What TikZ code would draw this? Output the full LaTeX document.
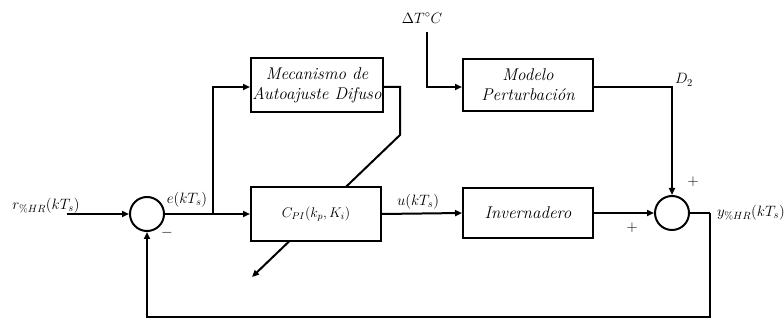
\RequirePackage{fix-cm}
\documentclass[tikz,border=0pt]{standalone}
\usepackage{fontspec}
\usetikzlibrary{arrows.meta,backgrounds}
\begin{document}
\begin{tikzpicture}[x=1pt,y=-1pt,
  every node/.style={font=\fontsize{15}{18}\selectfont},
  blk/.style={draw,line width=2pt,fill=white,minimum width=#1,inner sep=0pt,align=center,font=\fontsize{17}{20}\selectfont\itshape},
  sumc/.style={draw,circle,line width=2pt,fill=white,minimum size=34pt,inner sep=0pt},
  wire/.style={line width=2pt},
  arr/.style={wire,-{Triangle[length=7pt,width=6pt]}},
  lbl/.style={inner sep=0pt}]
\useasboundingbox (0,0) rectangle (784,320);
% blocks
\node[sumc] (s1) at (147,214) {};
\node[blk=132pt,minimum height=54pt] (fz) at (317,85) {Mecanismo de\\Autoajuste Difuso};
\node[blk=130pt,minimum height=54pt,font=\fontsize{14}{17}\selectfont] (pi) at (316,214) {$C_{PI}(k_p,K_i)$};
\node[blk=130pt,minimum height=52pt] (md) at (528,85) {Modelo\\Perturbación};
\node[blk=130pt,minimum height=50pt] (inv) at (528,213) {Invernadero};
\node[sumc] (s2) at (672,213) {};
% coordinates
\coordinate (rin) at (67,214);
\coordinate (br) at (213,214);
\coordinate (dt) at (427,32);
\coordinate (tip) at (252,277);
\coordinate (fb) at (710,213);
% connectors
\draw[arr] (rin) -- (s1.west);
\draw[arr] (s1.east) -- (pi.west);
\draw[arr] (br) |- (fz.west |- 0,87);
\begin{scope}[on background layer]
\draw[arr] (fz.east |- 0,87) -| (400,135) -- (tip);
\end{scope}
\draw[arr] (pi.east) -- (inv.west);
\draw[arr] (inv.east) -- (s2.west);
\draw[arr] (dt) |- (md.west |- 0,87);
\draw[arr] (md.east |- 0,87) -| (s2.north);
\draw[wire] (s2.east) -- (fb);
\draw[arr] (fb) -- (710,317) -| (s1.south);
% labels
\node[lbl] (lr) at (46,206) {$r_{\%HR}(kT_s)$};
\node[lbl] (le) at (187,200) {$e(kT_s)$};
\node[lbl] (lm) at (167,233) {$-$};
\node[lbl] (lu) at (418,202) {$u(kT_s)$};
\node[lbl] (ld) at (684,80) {$D_2$};
\node[lbl] (lp1) at (693,182) {$+$};
\node[lbl] (lp2) at (632,228) {$+$};
\node[lbl] (ly) at (751,213) {$y_{\%HR}(kT_s)$};
\node[lbl] (lt) at (422,18) {$\Delta T^{\circ}C$};
\end{tikzpicture}
\end{document}
